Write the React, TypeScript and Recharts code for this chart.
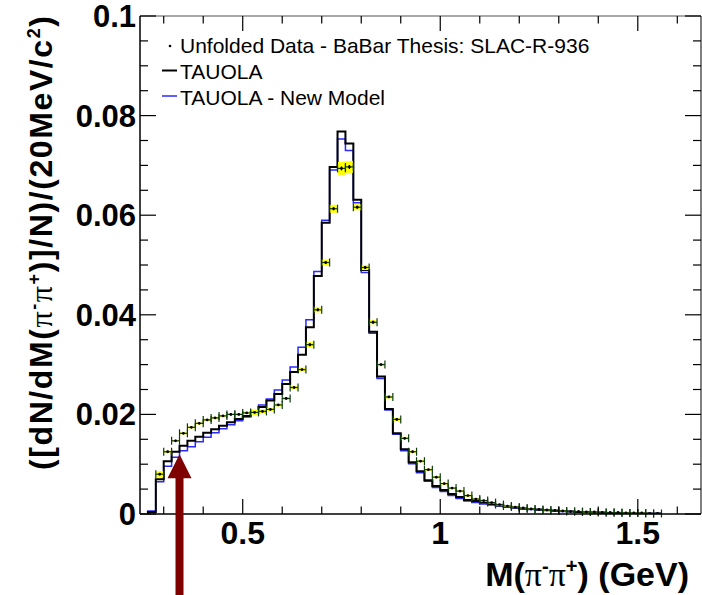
import { ComposedChart, Line, Scatter, ErrorBar, XAxis, YAxis, ReferenceDot } from "recharts";

const FONT = '"Liberation Sans", Arial, Helvetica, sans-serif';
const SERIF = '"Liberation Serif", "Times New Roman", serif';

// histogram binning: 20 MeV bins starting at 0.26 GeV
const BIN_LO = 0.26;
const BIN_W = 0.02;

const TAUOLA = [
  0.0004, 0.007, 0.0106, 0.0125, 0.0137, 0.0147, 0.0155, 0.0163, 0.017, 0.0177,
  0.0184, 0.0191, 0.0197, 0.0204, 0.0215, 0.0228, 0.0241, 0.0261, 0.0285, 0.032,
  0.0375, 0.0478, 0.0585, 0.0697, 0.0768, 0.0744, 0.0631, 0.049, 0.0366, 0.0276,
  0.0211, 0.0162, 0.013, 0.0104, 0.0086, 0.0068, 0.0056, 0.0048, 0.004, 0.0034,
  0.0028, 0.0026, 0.0023, 0.002, 0.0017, 0.0015, 0.0013, 0.0011, 0.001, 0.0009,
  0.0008, 0.0007, 0.0006, 0.0005, 0.0004, 0.0004, 0.0003, 0.0003, 0.0002, 0.0002,
  0.0002, 0.0001, 0.0001, 0.0001, 0.0001,
];

const NEW_MODEL = [
  0.0006, 0.0065, 0.0096, 0.0114, 0.0127, 0.0135, 0.0145, 0.0154, 0.0163, 0.0171,
  0.0179, 0.0187, 0.0195, 0.0205, 0.0219, 0.0231, 0.0249, 0.0269, 0.0295, 0.0335,
  0.039, 0.0487, 0.059, 0.0691, 0.0753, 0.073, 0.0625, 0.0485, 0.0363, 0.0272,
  0.0209, 0.016, 0.0127, 0.0101, 0.0083, 0.0066, 0.0053, 0.0045, 0.0037, 0.0031,
  0.0026, 0.0023, 0.002, 0.0018, 0.0016, 0.0014, 0.0012, 0.001, 0.0009, 0.0008,
  0.0007, 0.0006, 0.0005, 0.0005, 0.0004, 0.0003, 0.0003, 0.0002, 0.0002, 0.0002,
  0.0001, 0.0001, 0.0001, 0.0001, 0.0001,
];

// unfolded data, bin centres from 0.29 GeV
const DATA_FIRST = 0.29;
const DATA = [
  0.008, 0.0125, 0.0147, 0.0162, 0.0174, 0.0182, 0.0189, 0.0193, 0.0197, 0.02,
  0.02, 0.0203, 0.0204, 0.0206, 0.021, 0.0219, 0.0232, 0.0254, 0.029, 0.034,
  0.041, 0.0505, 0.0613, 0.0694, 0.0697, 0.0616, 0.0495, 0.0385, 0.03, 0.0235,
  0.019, 0.0152, 0.0125, 0.0106, 0.0089, 0.0074, 0.0061, 0.0052, 0.0046, 0.0037,
  0.003, 0.0027, 0.0023, 0.0019, 0.0016, 0.0014, 0.0012, 0.001, 0.0009, 0.0008,
  0.0007, 0.0006, 0.0005, 0.0005, 0.0004, 0.0004, 0.0003, 0.0003, 0.0003, 0.0002,
  0.0002, 0.0002, 0.0001, 0.0001,
];
const DATA_STAT = [
  0.0002, 0.0002, 0.0002, 0.0002, 0.0002, 0.0002, 0.0002, 0.0002, 0.0002, 0.0002,
  0.0002, 0.0002, 0.0002, 0.0002, 0.0002, 0.0002, 0.0002, 0.0002, 0.0002, 0.0003,
  0.0003, 0.0003, 0.0003, 0.0004, 0.0004, 0.0003, 0.0003, 0.0003, 0.0002, 0.0002,
  0.0002, 0.0002, 0.0002, 0.0002, 0.0002, 0.0002, 0.0002, 0.0002, 0.0001, 0.0001,
  0.0001, 0.0001, 0.0001, 0.0001, 0.0001, 0.0001, 0.0001, 0.0001, 0.0001, 0.0001,
  0.0001, 0.0001, 0.0001, 0.0001, 0.0001, 0.0001, 0.0001, 0.0001, 0.0001, 0.0001,
  0.0001, 0.0001, 0.0001, 0.0001,
];
const DATA_SYST = [
  0.0006, 0.0002, 0.0002, 0.0002, 0.0002, 0.0002, 0.0002, 0.0002, 0.0002, 0.0002,
  0.0002, 0.0002, 0.0005, 0.0004, 0.0003, 0.0003, 0.0003, 0.0003, 0.0004, 0.0005,
  0.0005, 0.0006, 0.0008, 0.0013, 0.0012, 0.0006, 0.0005, 0.0004, 0.0003, 0.0003,
  0.0003, 0.0003, 0.0002, 0.0002, 0.0002, 0.0002, 0.0002, 0.0002, 0.0002, 0.0002,
  0.0002, 0.0002, 0.0002, 0.0002, 0.0002, 0.0001, 0.0001, 0.0001, 0.0001, 0.0001,
  0.0001, 0.0001, 0.0001, 0.0001, 0.0001, 0.0001, 0.0001, 0.0001, 0.0001, 0.0001,
  0.0001, 0.0001, 0.0001, 0.0001,
];

const X_TICKS = [0.3, 0.4, 0.5, 0.6, 0.7, 0.8, 0.9, 1.0, 1.1, 1.2, 1.3, 1.4, 1.5, 1.6];
const X_LABELS: Record<string, string> = { "0.5": "0.5", "1": "1", "1.5": "1.5" };
const Y_TICKS = [
  0, 0.005, 0.01, 0.015, 0.02, 0.025, 0.03, 0.035, 0.04, 0.045, 0.05,
  0.055, 0.06, 0.065, 0.07, 0.075, 0.08, 0.085, 0.09, 0.095, 0.1,
];
const Y_LABELS: Record<string, string> = {
  "0": "0", "0.02": "0.02", "0.04": "0.04", "0.06": "0.06", "0.08": "0.08", "0.1": "0.1",
};

const ARROW_AT = { x: 0.34, y: 0.012 };

function stepPoints(vals: number[]) {
  const pts = [{ x: BIN_LO, y: 0 }];
  vals.forEach((v, i) => pts.push({ x: +(BIN_LO + i * BIN_W).toFixed(2), y: v }));
  pts.push({ x: +(BIN_LO + vals.length * BIN_W).toFixed(2), y: vals[vals.length - 1] });
  return pts;
}

const tauolaSteps = stepPoints(TAUOLA);
const newModelSteps = stepPoints(NEW_MODEL);
const dataPoints = DATA.map((v, i) => ({
  x: +(DATA_FIRST + i * BIN_W).toFixed(2),
  y: v,
  ex: BIN_W / 2,
  stat: DATA_STAT[i],
  syst: DATA_SYST[i],
}));

const isMajorX = (v: number) => X_LABELS[String(v)] !== undefined;
const isMajorY = (v: number) => Y_LABELS[String(v)] !== undefined;

function BottomTick({ x, y, payload }: any) {
  const major = isMajorX(payload.value);
  return (
    <g>
      <line x1={x} x2={x} y1={y} y2={y - (major ? 15 : 7.5)} stroke="#000" strokeWidth={1.2} />
      {major && (
        <text x={x} y={y + 30} textAnchor="middle" fontFamily={FONT} fontWeight="bold" fontSize={32} fill="#000">
          {X_LABELS[String(payload.value)]}
        </text>
      )}
    </g>
  );
}

function TopTick({ x, y, payload }: any) {
  const major = isMajorX(payload.value);
  return <line x1={x} x2={x} y1={y} y2={y + (major ? 15 : 7.5)} stroke="#000" strokeWidth={1.2} />;
}

function LeftTick({ x, y, payload }: any) {
  const major = isMajorY(payload.value);
  return (
    <g>
      <line x1={x} x2={x + (major ? 16 : 8)} y1={y} y2={y} stroke="#000" strokeWidth={1.2} />
      {major && (
        <text x={x - 4} y={y + 11} textAnchor="end" fontFamily={FONT} fontWeight="bold" fontSize={31} fill="#000">
          {Y_LABELS[String(payload.value)]}
        </text>
      )}
    </g>
  );
}

function RightTick({ x, y, payload }: any) {
  const major = isMajorY(payload.value);
  return <line x1={x} x2={x - (major ? 16 : 8)} y1={y} y2={y} stroke="#000" strokeWidth={1.2} />;
}

function DataDot({ cx, cy }: any) {
  return <circle cx={cx} cy={cy} r={1.4} fill="#000" />;
}

function Arrow({ cx, cy }: any) {
  const headH = 24;
  const headW = 12;
  const shaftW = 4;
  return (
    <polygon
      points={[
        `${cx},${cy}`,
        `${cx + headW},${cy + headH}`,
        `${cx + shaftW},${cy + headH}`,
        `${cx + shaftW},${cy + 200}`,
        `${cx - shaftW},${cy + 200}`,
        `${cx - shaftW},${cy + headH}`,
        `${cx - headW},${cy + headH}`,
      ].join(" ")}
      fill="#7f0000"
    />
  );
}

export default function App() {
  return (
    <div style={{ position: "absolute", left: 0, top: 0, width: 702, height: 595, background: "#fff", overflow: "hidden" }}>
      <ComposedChart width={702} height={595} margin={{ top: 15, right: 0, bottom: 80, left: 139 }}>
        <XAxis
          xAxisId="b"
          dataKey="x"
          type="number"
          domain={[0.24, 1.66]}
          allowDataOverflow
          ticks={X_TICKS}
          interval={0}
          height={1}
          tickSize={0}
          tickMargin={0}
          tickLine={false}
          tick={<BottomTick />}
          axisLine={{ stroke: "#000", strokeWidth: 1.5 }}
        />
        <XAxis
          xAxisId="t"
          orientation="top"
          dataKey="x"
          type="number"
          domain={[0.24, 1.66]}
          allowDataOverflow
          ticks={X_TICKS}
          interval={0}
          height={1}
          tickSize={0}
          tickMargin={0}
          tickLine={false}
          tick={<TopTick />}
          axisLine={{ stroke: "#555", strokeWidth: 1 }}
        />
        <YAxis
          yAxisId="l"
          type="number"
          domain={[0, 0.1]}
          allowDataOverflow
          ticks={Y_TICKS}
          interval={0}
          width={1}
          tickSize={0}
          tickMargin={0}
          tickLine={false}
          tick={<LeftTick />}
          axisLine={{ stroke: "#000", strokeWidth: 1.5 }}
        />
        <YAxis
          yAxisId="r"
          orientation="right"
          type="number"
          domain={[0, 0.1]}
          allowDataOverflow
          ticks={Y_TICKS}
          interval={0}
          width={1}
          tickSize={0}
          tickMargin={0}
          tickLine={false}
          tick={<RightTick />}
          axisLine={{ stroke: "#000", strokeWidth: 1 }}
        />
        <Line
          xAxisId="b"
          yAxisId="l"
          data={newModelSteps}
          dataKey="y"
          type="stepAfter"
          stroke="#2a2aff"
          strokeWidth={1.5}
          dot={false}
          isAnimationActive={false}
        />
        <Line
          xAxisId="b"
          yAxisId="l"
          data={tauolaSteps}
          dataKey="y"
          type="stepAfter"
          stroke="#000"
          strokeWidth={2}
          dot={false}
          isAnimationActive={false}
        />
        <Scatter
          xAxisId="b"
          yAxisId="l"
          data={dataPoints}
          dataKey="y"
          shape={<DataDot />}
          isAnimationActive={false}
        >
          <ErrorBar dataKey="syst" direction="y" width={0} stroke="#ffff00" strokeWidth={7} />
          <ErrorBar dataKey="ex" direction="x" width={4} stroke="#0d3b0d" strokeWidth={1.2} />
          <ErrorBar dataKey="stat" direction="y" width={0} stroke="#000" strokeWidth={1.2} />
        </Scatter>
        <ReferenceDot
          xAxisId="b"
          yAxisId="l"
          x={ARROW_AT.x}
          y={ARROW_AT.y}
          shape={<Arrow />}
        />
      </ComposedChart>
      <svg width={702} height={595} style={{ position: "absolute", left: 0, top: 0, pointerEvents: "none" }}>
        <g fontFamily={FONT} fontSize={21} fill="#000">
          <circle cx={170} cy={46} r={1.3} fill="#000" />
          <text x={180} y={53}>Unfolded Data - BaBar Thesis: SLAC-R-936</text>
          <line x1={162} x2={177} y1={70.5} y2={70.5} stroke="#000" strokeWidth={2} />
          <text x={180} y={79}>TAUOLA</text>
          <line x1={162} x2={177} y1={96} y2={96} stroke="#2a2aff" strokeWidth={1.5} />
          <text x={180} y={105}>TAUOLA - New Model</text>
        </g>
        <text
          x={689}
          y={586}
          textAnchor="end"
          fontFamily={FONT}
          fontWeight="bold"
          fontSize={34}
          fill="#000"
        >
          <tspan>M(</tspan>
          <tspan fontFamily={SERIF} fontWeight="normal">π</tspan>
          <tspan dy={-13} fontSize={20}>-</tspan>
          <tspan dy={13} fontFamily={SERIF} fontWeight="normal">π</tspan>
          <tspan dy={-13} fontSize={20}>+</tspan>
          <tspan dy={13}>) (GeV)</tspan>
        </text>
        <text
          transform="translate(52, 470) rotate(-90)"
          textLength={454}
          fontFamily={FONT}
          fontWeight="bold"
          fontSize={32}
          fill="#000"
        >
          <tspan>([dN/dM(</tspan>
          <tspan fontFamily={SERIF} fontWeight="normal">π</tspan>
          <tspan dy={-12} fontSize={18}>-</tspan>
          <tspan dy={12} fontFamily={SERIF} fontWeight="normal">π</tspan>
          <tspan dy={-12} fontSize={18}>+</tspan>
          <tspan dy={12}>)]/N)/(20MeV/c</tspan>
          <tspan dy={-12} fontSize={18}>2</tspan>
          <tspan dy={12}>)</tspan>
        </text>
      </svg>
    </div>
  );
}
